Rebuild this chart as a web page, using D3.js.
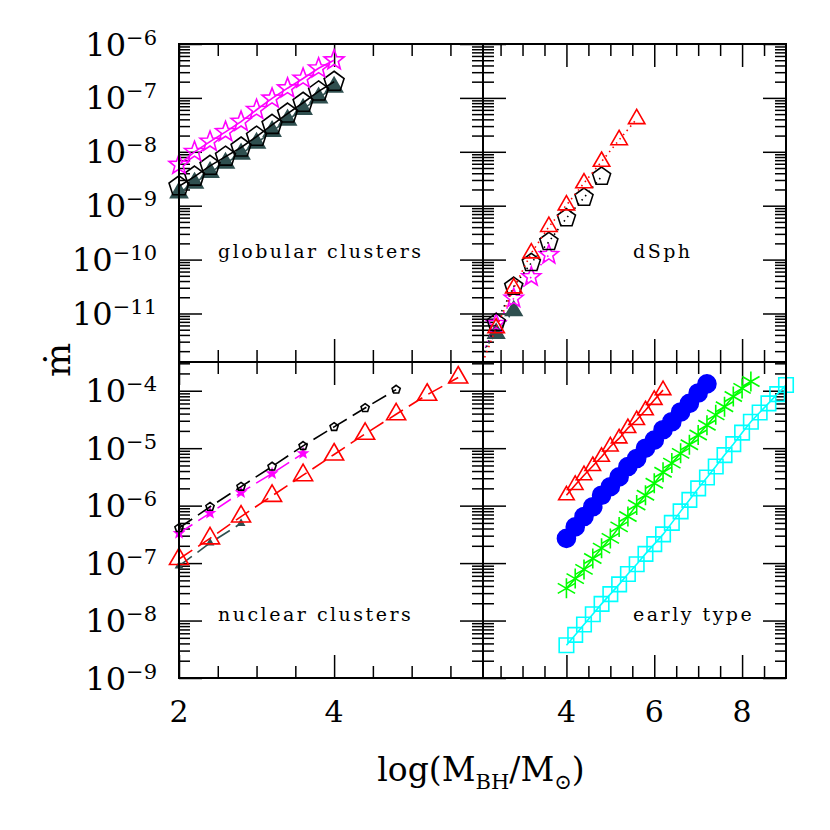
<!DOCTYPE html>
<html lang="en">
<head>
<meta charset="UTF-8">
<title>accretion rate vs black hole mass</title>
<script src="https://cdn.jsdelivr.net/npm/d3@7"></script>
<style>
html,body{margin:0;padding:0;background:#fff}
svg{display:block}
.lbl{font-family:"DejaVu Serif",serif;fill:#000}
.tag{font-family:"DejaVu Serif",serif;font-size:19px;letter-spacing:2.5px;fill:#000}
.axis line{stroke:#000;stroke-width:1.5}
</style>
</head>
<body>
<svg id="chart" width="830" height="830"></svg>
<script>
// ── data: log10(mdot) ──
// globular clusters
const gcMass = [2.0, 2.2, 2.4, 2.6, 2.8, 3.0, 3.2, 3.4, 3.6, 3.8, 4.0];
const gcStar = [-8.24, -8.00, -7.81, -7.63, -7.44, -7.22, -7.01, -6.82, -6.64, -6.45, -6.30];
const gcPent = [-8.64, -8.46, -8.26, -8.09, -7.92, -7.72, -7.50, -7.29, -7.09, -6.88, -6.70];
const gcTri  = [-8.76, -8.58, -8.38, -8.21, -8.04, -7.84, -7.62, -7.41, -7.21, -7.00, -6.80];

// dSph
const dsMass = [2.0, 2.4, 2.8, 3.2, 3.6, 4.0, 4.4, 4.8, 5.2, 5.6];
const dsTri  = [-12.1, -11.27, -10.53, -9.88, -9.39, -8.99, -8.58, -8.18, -7.78, -7.39];
const dsPent = [-12.0, -11.17, -10.50, -10.06, -9.67, -9.23, -8.85, -8.46];
const dsStar = [-11.9, -11.19, -10.72, -10.32, -9.91];
const dsFill = [-11.8, -11.37, -10.95];

// nuclear clusters
const ncMass = [2.0, 2.4, 2.8, 3.2, 3.6, 4.0, 4.4, 4.8, 5.2, 5.6];
const ncTri  = [-6.93, -6.57, -6.19, -5.83, -5.47, -5.11, -4.75, -4.41, -4.07, -3.77];
const ncPent = [-6.39, -6.02, -5.67, -5.32, -4.96, -4.63, -4.30, -3.98];
const ncStar = [-6.48, -6.13, -5.77, -5.44, -5.09];
const ncFill = [-7.05, -6.65, -6.31];

// early type
const etMass = [4.0, 4.2, 4.4, 4.6, 4.8, 5.0, 5.2, 5.4, 5.6, 5.8, 6.0, 6.2, 6.4,
                6.6, 6.8, 7.0, 7.2, 7.4, 7.6, 7.8, 8.0, 8.2, 8.4, 8.6, 8.8, 9.0];
const etTri  = [-5.82, -5.64, -5.47, -5.31, -5.15, -4.97, -4.83, -4.65, -4.51, -4.34, -4.16, -3.99];
const etCirc = [-6.57, -6.37, -6.19, -6.02, -5.82, -5.67, -5.50, -5.32, -5.18, -5.00, -4.86,
                -4.68, -4.54, -4.37, -4.22, -4.04, -3.88];
const etAst  = [-7.44, -7.27, -7.11, -6.92, -6.74, -6.57, -6.37, -6.19, -5.99, -5.82, -5.61,
                -5.42, -5.26, -5.09, -4.94, -4.77, -4.60, -4.42, -4.28, -4.10, -3.96, -3.84];
const etSq   = [-8.43, -8.25, -8.07, -7.89, -7.71, -7.54, -7.37, -7.19, -7.02, -6.84, -6.67,
                -6.50, -6.30, -6.10, -5.90, -5.70, -5.51, -5.32, -5.12, -4.93, -4.73, -4.54,
                -4.38, -4.22, -4.06, -3.90];

// ticks
const xMajLeft  = [2, 4];
const xMinLeft  = [2.5, 3, 3.5, 4.5, 5, 5.5];
const xMajRight = [4, 6, 8];
const xMinRight = [2.5, 3, 3.5, 4.5, 5, 5.5, 6.5, 7, 7.5, 8.5];
const topExps = [-6, -7, -8, -9, -10, -11];
const botExps = [-4, -5, -6, -7, -8, -9];

const slate = '#2f4f4f';

// ── layout ──
const L = 179, MX = 483, R = 786, T = 44, MY = 362, B = 678;
const svg = d3.select('#chart');
const defs = svg.append('defs');

const xLeft  = d3.scaleLinear().domain([2, 5.92]).range([L, MX]);
const xRight = d3.scaleLinear().domain([2.1, 9]).range([MX, R]);
const yTop = d3.scaleLog().domain([Math.pow(10, -11.9), 1e-6]).range([MY, T]);
const yBot = d3.scaleLog().domain([1e-9, Math.pow(10, -3.5)]).range([B, MY]);

// ── marker shapes (centred on 0,0) ──
function polygon(n, r) {
  const p = d3.path();
  for (let i = 0; i < n; i++) {
    const a = -Math.PI / 2 + i * 2 * Math.PI / n;
    i ? p.lineTo(r * Math.cos(a), r * Math.sin(a)) : p.moveTo(r * Math.cos(a), r * Math.sin(a));
  }
  p.closePath();
  return p.toString();
}
function star(r) {
  const p = d3.path();
  for (let i = 0; i < 10; i++) {
    const a = -Math.PI / 2 + i * Math.PI / 5, rr = i % 2 ? r * 0.42 : r;
    i ? p.lineTo(rr * Math.cos(a), rr * Math.sin(a)) : p.moveTo(rr * Math.cos(a), rr * Math.sin(a));
  }
  p.closePath();
  return p.toString();
}
function asterisk(r) {
  const p = d3.path();
  [90, 30, 150].forEach(function(deg) {
    const a = deg * Math.PI / 180;
    p.moveTo(r * Math.cos(a), r * Math.sin(a));
    p.lineTo(-r * Math.cos(a), -r * Math.sin(a));
  });
  return p.toString();
}
function square(s) { return 'M' + (-s / 2) + ',' + (-s / 2) + 'h' + s + 'v' + s + 'h' + (-s) + 'Z'; }
function circle(r) { return d3.symbol(d3.symbolCircle, Math.PI * r * r)(); }
const shapes = { tri: r => polygon(3, r), pent: r => polygon(5, r), star: star, ast: asterisk, sq: square, circ: circle };

function isDecade(v) { const l = Math.log10(v); return Math.abs(l - Math.round(l)) < 1e-6; }

// ── one panel ──
function panel(id, x, y, xMaj, xMin, series) {
  const [x0, x1] = x.range(), [y0, y1] = y.range();
  const yt = y.ticks();
  const yMaj = yt.filter(isDecade), yMin = yt.filter(v => !isDecade(v));
  const g = svg.append('g');

  defs.append('clipPath').attr('id', id).append('rect')
    .attr('x', x0).attr('y', y1).attr('width', x1 - x0).attr('height', y0 - y1);

  const sides = [
    [d3.axisBottom, 'translate(0,' + y0 + ')', x, xMaj, 23],
    [d3.axisBottom, 'translate(0,' + y0 + ')', x, xMin, 12],
    [d3.axisTop,    'translate(0,' + y1 + ')', x, xMaj, 23],
    [d3.axisTop,    'translate(0,' + y1 + ')', x, xMin, 12],
    [d3.axisLeft,   'translate(' + x0 + ',0)', y, yMaj, 23],
    [d3.axisLeft,   'translate(' + x0 + ',0)', y, yMin, 11],
    [d3.axisRight,  'translate(' + x1 + ',0)', y, yMaj, 23],
    [d3.axisRight,  'translate(' + x1 + ',0)', y, yMin, 11]
  ];
  sides.forEach(function(s) {
    g.append('g').attr('class', 'axis').attr('transform', s[1])
      .call(s[0](s[2]).tickValues(s[3]).tickSize(-s[4]).tickFormat(''))
      .call(a => a.select('.domain').remove());
  });

  const xd = x.domain(), yd = y.domain();
  series.forEach(function(s) {
    const pts = s.y.map((v, i) => [s.x[i], Math.pow(10, v)]);
    const line = d3.line().x(d => x(d[0])).y(d => y(d[1]));
    g.append('path').attr('clip-path', 'url(#' + id + ')')
      .attr('d', line(pts)).attr('fill', 'none')
      .attr('stroke', s.color).attr('stroke-width', 1.6)
      .attr('stroke-dasharray', s.dash || null);
    const inside = pts.filter(d => d[0] >= xd[0] && d[0] <= xd[1] && d[1] >= yd[0] && d[1] <= yd[1]);
    g.selectAll(null).data(inside).join('path')
      .attr('transform', d => 'translate(' + x(d[0]) + ',' + y(d[1]) + ')')
      .attr('d', shapes[s.mark](s.r))
      .attr('fill', s.fill ? s.color : 'none')
      .attr('stroke', s.color).attr('stroke-width', 1.6);
  });

  g.append('rect').attr('x', x0).attr('y', y1).attr('width', x1 - x0).attr('height', y0 - y1)
    .attr('fill', 'none').attr('stroke', '#000').attr('stroke-width', 2);
}

panel('clipTL', xLeft, yTop, xMajLeft, xMinLeft, [
  { x: gcMass, y: gcTri,  color: slate,     mark: 'tri',  r: 9.8, fill: true },
  { x: gcMass, y: gcPent, color: '#000',    mark: 'pent', r: 10.5 },
  { x: gcMass, y: gcStar, color: '#ff00ff', mark: 'star', r: 10.5 }
]);
panel('clipTR', xRight, yTop, xMajRight, xMinRight, [
  { x: dsMass, y: dsFill, color: slate,     mark: 'tri',  r: 9.5, fill: true, dash: '1.5,4' },
  { x: dsMass, y: dsStar, color: '#ff00ff', mark: 'star', r: 10,  dash: '1.5,4' },
  { x: dsMass, y: dsPent, color: '#000',    mark: 'pent', r: 9.5, dash: '1.5,4' },
  { x: dsMass, y: dsTri,  color: '#ff0000', mark: 'tri',  r: 9.5, dash: '1.5,4' }
]);
panel('clipBL', xLeft, yBot, xMajLeft, xMinLeft, [
  { x: ncMass, y: ncFill, color: slate,     mark: 'tri',  r: 3.5, fill: true, dash: '16,7' },
  { x: ncMass, y: ncTri,  color: '#ff0000', mark: 'tri',  r: 11,  dash: '16,7' },
  { x: ncMass, y: ncStar, color: '#ff00ff', mark: 'star', r: 4.5, fill: true, dash: '16,7' },
  { x: ncMass, y: ncPent, color: '#000',    mark: 'pent', r: 4.3, dash: '16,7' }
]);
panel('clipBR', xRight, yBot, xMajRight, xMinRight, [
  { x: etMass, y: etSq,   color: '#00ffff', mark: 'sq',   r: 14.5 },
  { x: etMass, y: etAst,  color: '#00ff00', mark: 'ast',  r: 10 },
  { x: etMass, y: etCirc, color: '#0000ff', mark: 'circ', r: 9, fill: true },
  { x: etMass, y: etTri,  color: '#ff0000', mark: 'tri',  r: 9 }
]);

// ── tick labels ──
function yLabels(y, exps) {
  exps.forEach(function(e) {
    const t = svg.append('text').attr('class', 'lbl')
      .attr('x', 157).attr('y', y(Math.pow(10, e)) + 11.5)
      .attr('text-anchor', 'end').style('font-size', '32px');
    t.append('tspan').text('10');
    t.append('tspan').attr('dy', -11).style('font-size', '21px').text('\u2212' + (-e));
  });
}
yLabels(yTop, topExps);
yLabels(yBot, botExps);

function xLabels(x, vals) {
  vals.forEach(function(v) {
    svg.append('text').attr('class', 'lbl')
      .attr('x', x(v)).attr('y', 721.5).attr('text-anchor', 'middle')
      .style('font-size', '30px').text(v);
  });
}
xLabels(xLeft, xMajLeft);
xLabels(xRight, xMajRight);

// ── axis titles ──
const xt = svg.append('text').attr('class', 'lbl').attr('x', 481).attr('y', 781)
  .attr('text-anchor', 'middle').style('font-size', '33px');
xt.append('tspan').text('log(M');
xt.append('tspan').attr('dy', 8).style('font-size', '21px').text('BH');
xt.append('tspan').attr('dy', -8).text('/M');
xt.append('tspan').attr('dy', 8).style('font-size', '21px').text('\u2299');
xt.append('tspan').attr('dy', -8).text(')');

svg.append('text').attr('class', 'lbl')
  .attr('transform', 'translate(70,360) rotate(-90)')
  .attr('text-anchor', 'middle').style('font-size', '36px').text('\u1E41');

// ── panel tags ──
[['globular clusters', 218, 258], ['dSph', 633, 258],
 ['nuclear clusters', 218, 621], ['early type', 633, 621]].forEach(function(d) {
  svg.append('text').attr('class', 'tag').attr('x', d[1]).attr('y', d[2]).text(d[0]);
});
</script>
</body>
</html>
